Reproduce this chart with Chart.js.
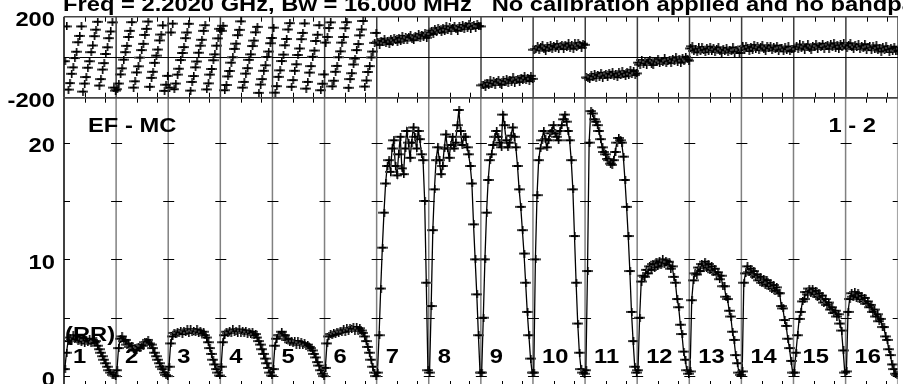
<!DOCTYPE html>
<html>
<head>
<meta charset="utf-8">
<script src="https://cdn.jsdelivr.net/npm/chart.js@4.4.1/dist/chart.umd.min.js"></script>
<style>
  html, body { margin: 0; padding: 0; background: #fff; overflow: hidden; }
  #wrap { position: relative; width: 903px; height: 384px; overflow: hidden; }
  canvas { position: absolute; left: 0; top: 0; }
</style>
</head>
<body>
<div id="wrap">
  <canvas id="ampCanvas" width="903" height="392"></canvas>
  <canvas id="phaseCanvas" width="903" height="384"></canvas>
</div>
<script>
"use strict";

// ---- data (32 channels per IF) ----
const CHANNELS = 32;
const ifLabels = ["1", "2", "3", "4", "5", "6", "7", "8", "9", "10", "11", "12", "13", "14", "15", "16"];
const titleText = "Freq = 2.2020 GHz, Bw = 16.000 MHz   No calibration applied and no bandpass";
const baselineText = "EF - MC";
const stokesText = "(RR)";
const pageText = "1 - 2";
const phaseLabelTicks = [200, -200];
const ampLabelTicks = [20, 10, 0];
const ampMarkTicks = [0, 5, 10, 15, 20];

const ampIF01 = [0.6, 2.0, 3.0, 3.3, 3.1, 3.5, 3.2, 3.4, 3.0, 3.3, 2.9, 3.2, 2.8, 3.1, 2.9, 3.2, 2.8, 3.1, 2.9, 3.0, 2.6, 2.3, 2.0, 1.7, 1.4, 1.1, 0.8, 0.5, 0.3, 0.1, 0.05, 0.0];
const ampIF02 = [0.5, 2.4, 3.2, 3.4, 3.0, 3.1, 2.7, 2.8, 2.5, 2.6, 2.3, 2.4, 2.2, 2.5, 2.4, 2.7, 2.6, 2.9, 2.9, 3.1, 2.8, 2.7, 2.4, 2.0, 1.7, 1.4, 1.1, 0.8, 0.6, 0.3, 0.1, 0.0];
const ampIF03 = [0.8, 2.8, 3.4, 3.7, 3.6, 3.8, 3.7, 3.9, 3.6, 3.9, 3.8, 4.0, 3.7, 4.0, 3.8, 3.9, 3.8, 4.0, 3.7, 3.9, 3.6, 3.8, 3.5, 3.3, 2.9, 2.4, 1.9, 1.4, 1.0, 0.6, 0.3, 0.05];
const ampIF04 = [0.8, 2.9, 3.5, 3.8, 3.7, 3.9, 3.7, 4.0, 3.8, 3.9, 3.7, 4.0, 3.7, 3.9, 3.7, 3.9, 3.6, 3.8, 3.6, 3.8, 3.5, 3.6, 3.3, 3.0, 2.7, 2.3, 1.9, 1.5, 1.1, 0.7, 0.3, 0.05];
const ampIF05 = [0.6, 2.6, 3.2, 3.5, 3.5, 3.8, 3.5, 3.5, 3.1, 3.2, 2.9, 3.0, 2.8, 3.0, 2.7, 3.0, 2.7, 2.9, 2.7, 2.8, 2.6, 2.7, 2.5, 2.4, 2.2, 1.9, 1.6, 1.2, 0.9, 0.5, 0.2, 0.0];
const ampIF06 = [0.7, 2.8, 3.4, 3.6, 3.5, 3.7, 3.6, 3.8, 3.7, 3.9, 3.8, 4.0, 3.8, 4.1, 3.9, 4.1, 4.0, 4.2, 3.9, 4.2, 3.9, 4.1, 3.9, 3.7, 3.4, 3.0, 2.5, 2.0, 1.4, 0.8, 0.3, 0.0];
const ampIF07 = [0.3, 3.5, 7.5, 11.0, 14.0, 16.5, 18.0, 18.5, 17.5, 19.5, 20.2, 18.0, 17.2, 19.0, 20.5, 17.8, 17.3, 19.5, 21.0, 20.0, 18.7, 20.0, 21.3, 20.5, 19.5, 21.0, 20.3, 19.0, 18.5, 15.0, 8.0, 0.5];
const ampIF08 = [0.3, 6.0, 12.5, 16.0, 18.5, 19.6, 18.5, 17.3, 18.0, 19.5, 20.7, 19.5, 18.7, 19.8, 20.5, 19.5, 20.0, 21.5, 22.8, 21.0, 19.8, 20.5, 20.5, 19.6, 19.0, 18.0, 16.5, 13.0, 10.0, 7.0, 3.5, 0.3];
const ampIF09 = [0.3, 5.0, 10.0, 14.0, 16.8, 18.5, 19.0, 19.8, 20.5, 21.0, 20.5, 20.0, 19.6, 22.4, 21.5, 20.2, 19.6, 20.0, 20.6, 21.3, 20.5, 19.6, 18.0, 16.0, 14.5, 12.5, 10.5, 8.0, 5.5, 3.5, 1.5, 0.3];
const ampIF10 = [0.3, 10.0, 15.5, 18.5, 19.5, 20.2, 21.0, 20.3, 19.6, 20.2, 20.8, 21.0, 21.5, 20.8, 20.5, 20.2, 21.0, 21.5, 22.0, 22.4, 21.8, 21.0, 20.2, 18.5, 16.0, 12.0, 8.0, 4.5, 2.0, 0.6, 0.3, 0.2];
const ampIF11 = [0.5, 9.0, 20.0, 22.7, 22.5, 22.0, 21.8, 21.5, 21.0, 20.3, 19.6, 19.2, 19.0, 18.6, 18.5, 18.2, 18.1, 18.5, 19.2, 20.0, 20.4, 20.2, 20.0, 18.8, 16.8, 14.5, 12.0, 9.0, 5.5, 3.0, 0.8, 0.3];
const ampIF12 = [0.5, 5.0, 8.1, 8.6, 8.5, 9.1, 8.8, 9.4, 9.1, 9.6, 9.3, 9.8, 9.4, 9.9, 9.5, 10.0, 9.6, 9.9, 9.5, 9.8, 9.2, 9.4, 8.5, 8.0, 6.6, 5.9, 4.4, 3.6, 2.1, 1.4, 0.5, 0.2];
const ampIF13 = [0.4, 6.5, 8.2, 8.8, 8.7, 9.3, 9.0, 9.6, 9.3, 9.8, 9.3, 9.6, 9.1, 9.4, 8.9, 9.2, 8.7, 8.9, 8.3, 8.6, 7.7, 7.7, 6.8, 6.6, 5.6, 5.1, 3.8, 3.1, 1.8, 1.1, 0.3, 0.1];
const ampIF14 = [0.4, 8.0, 8.8, 9.4, 8.9, 9.2, 8.7, 9.0, 8.5, 8.7, 8.2, 8.5, 8.0, 8.3, 7.8, 8.2, 7.7, 8.0, 7.5, 7.8, 7.3, 7.6, 7.1, 7.1, 6.0, 5.8, 4.8, 4.3, 3.2, 2.4, 1.3, 0.3];
const ampIF15 = [0.3, 2.0, 3.5, 4.9, 5.5, 6.4, 6.6, 7.2, 7.0, 7.5, 7.1, 7.5, 7.0, 7.3, 6.8, 7.1, 6.6, 6.9, 6.3, 6.6, 6.1, 6.3, 5.7, 5.9, 5.4, 5.6, 5.1, 5.3, 4.5, 3.9, 2.2, 0.3];
const ampIF16 = [0.4, 5.5, 6.6, 7.1, 6.8, 7.2, 6.7, 7.1, 6.6, 6.9, 6.4, 6.7, 6.2, 6.4, 5.9, 6.1, 5.5, 5.7, 5.1, 5.3, 4.7, 4.9, 4.2, 4.2, 3.4, 3.1, 2.3, 1.8, 1.0, 0.6, 0.2, 0.1];

const phaseIF01 = [-20, 152, -160, -128, -82, -50, -4, 27, 74, 105, 152, -170, -130, -98, -52, -20, 25, 58, 104, 136, 175, -140, -108, -61, -29, 16, 49, 94, 127, 172, -150, -165];
const phaseIF02 = [-158, -130, -85, -55, -12, 25, 56, 100, 130, 173, -150, -119, -75, -45, -2, 35, 66, 110, 140, 176, -146, -102, -72, -28, 8, 38, 83, 112, 157, -166, -136, -92];
const phaseIF03 = [-150, 122, 166, -158, -130, -86, -57, -14, 21, 50, 94, 122, 165, -165, -122, -93, -50, -21, 22, 57, 86, 130, 158, -159, -129, -86, -58, -15, 14, 57, 93, 140];
const phaseIF04 = [130, 155, -163, -137, -95, -68, -27, 0, 41, 67, 109, 135, 177, -150, -122, -81, -54, -13, 14, 55, 82, 123, 150, -176, -135, -108, -67, -40, 1, 28, 69, 95];
const phaseIF05 = [146, -175, -143, -97, -65, -19, 13, 59, 90, 137, 168, -146, -113, -67, -35, 11, 43, 89, 120, 167, -155, -122, -76, -44, 2, 33, 80, 111, 158, -163, -131, -85];
const phaseIF06 = [72, 100, 144, 172, -144, -116, -72, -43, 0, 29, 72, 100, 143, 173, -151, -108, -79, -36, -7, 35, 65, 108, 137, 179, -145, -115, -73, -44, -1, 28, 71, 120];
const phaseIF07 = [77, 61, 82, 73, 91, 69, 81, 65, 92, 77, 96, 84, 73, 95, 81, 105, 87, 101, 83, 98, 109, 90, 84, 106, 99, 113, 93, 108, 101, 121, 96, 110];
const phaseIF08 = [119, 131, 115, 141, 126, 145, 133, 122, 143, 129, 153, 135, 149, 130, 145, 156, 137, 131, 152, 145, 159, 139, 154, 146, 166, 141, 155, 160, 144, 164, 154, 152];
const phaseIF09 = [-139, -135, -146, -125, -139, -115, -132, -118, -137, -122, -111, -130, -136, -115, -122, -108, -127, -112, -120, -100, -125, -111, -106, -122, -101, -111, -92, -114, -102, -118, -92, -107];
const phaseIF10 = [37, 40, 53, 34, 48, 59, 40, 33, 54, 46, 60, 39, 54, 46, 65, 40, 53, 58, 41, 62, 52, 69, 47, 58, 42, 68, 52, 71, 58, 47, 67, 61];
const phaseIF11 = [-100, -103, -110, -89, -96, -83, -103, -88, -97, -77, -102, -89, -84, -100, -80, -90, -72, -94, -83, -99, -73, -89, -70, -82, -94, -73, -87, -64, -82, -68, -88, -80];
const phaseIF12 = [-27, -37, -14, -32, -18, -38, -23, -12, -32, -38, -17, -25, -11, -31, -17, -25, -5, -30, -17, -12, -28, -8, -18, 0, -23, -11, -27, -2, -17, 2, -11, -17];
const phaseIF13 = [43, 54, 31, 41, 24, 49, 33, 50, 37, 25, 45, 29, 52, 33, 46, 26, 39, 49, 29, 22, 41, 33, 46, 25, 38, 29, 48, 22, 35, 38, 21, 36];
const phaseIF14 = [53, 37, 56, 43, 31, 51, 37, 60, 41, 54, 35, 49, 59, 40, 33, 53, 44, 57, 35, 49, 39, 57, 31, 43, 47, 29, 48, 37, 53, 30, 40, 42];
const phaseIF15 = [45, 54, 40, 63, 44, 58, 38, 52, 63, 43, 37, 57, 49, 63, 42, 56, 48, 67, 41, 55, 59, 42, 63, 52, 69, 47, 58, 41, 67, 51, 70, 55];
const phaseIF16 = [46, 59, 69, 48, 40, 60, 51, 63, 42, 55, 45, 64, 37, 49, 53, 35, 54, 42, 59, 35, 45, 28, 52, 35, 53, 39, 26, 46, 30, 52, 33, 30];

const ampByIF = [ampIF01, ampIF02, ampIF03, ampIF04, ampIF05, ampIF06, ampIF07, ampIF08,
  ampIF09, ampIF10, ampIF11, ampIF12, ampIF13, ampIF14, ampIF15, ampIF16];
const phaseByIF = [phaseIF01, phaseIF02, phaseIF03, phaseIF04, phaseIF05, phaseIF06, phaseIF07, phaseIF08,
  phaseIF09, phaseIF10, phaseIF11, phaseIF12, phaseIF13, phaseIF14, phaseIF15, phaseIF16];

// ---- helpers ----
const FONT = 'bold 21px "Liberation Sans", Arial, sans-serif';
const X_MAX = ifLabels.length * CHANNELS;
const MINOR_TICKS = [12.8, 25]; // per IF, in channel units

function toPoints(list) {
  const pts = [];
  list.forEach((vals, i) => {
    vals.forEach((v, c) => pts.push({ x: i * CHANNELS + c + 0.5, y: v }));
  });
  return pts;
}

// wide "+" like the AIPS plot symbol
function makeCross() {
  const c = document.createElement("canvas");
  c.width = 11;
  c.height = 8;
  const g = c.getContext("2d");
  g.fillStyle = "#444";
  g.fillRect(0, 3, 11, 2);
  g.fillStyle = "#000";
  g.fillRect(2, 3, 7, 2);
  g.fillRect(5, 0, 1.6, 8);
  return c;
}

function drawText(ctx, text, x, y, align) {
  ctx.save();
  ctx.font = FONT;
  ctx.fillStyle = "#000";
  ctx.translate(x, y);
  ctx.scale(1.13, 1);
  ctx.textAlign = align;
  ctx.textBaseline = "alphabetic";
  ctx.fillText(text, 0, 0);
  ctx.restore();
}

function seg(ctx, x1, y1, x2, y2) {
  ctx.beginPath();
  ctx.moveTo(x1, y1);
  ctx.lineTo(x2, y2);
  ctx.stroke();
}

// frame, IF separators, inward ticks
const framePlugin = {
  id: "frame",
  beforeDatasetsDraw(chart, args, opts) {
    const { ctx, chartArea: a } = chart;
    const xs = chart.scales.x;
    const ys = chart.scales.y;
    ctx.save();
    ctx.beginPath();
    ctx.rect(a.left, a.top, a.right - a.left, a.bottom - a.top);
    ctx.clip();

    ctx.strokeStyle = opts.ifColor;
    ctx.lineWidth = 1.5;
    for (let k = 1; k <= ifLabels.length; k++) {
      const px = xs.getPixelForValue(k * CHANNELS);
      seg(ctx, px, a.top, px, a.bottom);
    }

    ctx.strokeStyle = "#000";
    ctx.lineWidth = 1;
    for (let k = 0; k < ifLabels.length; k++) {
      MINOR_TICKS.forEach((t) => {
        const px = Math.round(xs.getPixelForValue(k * CHANNELS + t)) + 0.5;
        seg(ctx, px, a.top, px, a.top + 5);
        seg(ctx, px, a.bottom - 5, px, a.bottom);
      });
    }

    (opts.marks || []).forEach((v) => {
      const py = Math.round(ys.getPixelForValue(v)) + 0.5;
      for (let k = 0; k <= ifLabels.length; k++) {
        const px = xs.getPixelForValue(k * CHANNELS);
        seg(ctx, px - 5, py, px + 6, py);
      }
    });

    if (opts.zeroLine) {
      const py = Math.round(ys.getPixelForValue(0)) + 0.5;
      seg(ctx, a.left, py, a.right, py);
    }
    ctx.restore();

    ctx.save();
    ctx.strokeStyle = "#000";
    ctx.lineWidth = 1.5;
    seg(ctx, a.left, a.top, a.left, a.bottom);
    ctx.strokeStyle = "#444";
    seg(ctx, a.left, a.top, a.right, a.top);
    seg(ctx, a.left, a.bottom, a.right, a.bottom);
    ctx.restore();
  },
  afterDraw(chart, args, opts) {
    if (opts.draw) opts.draw(chart);
  },
};

const crossImg = makeCross();

function baseOptions(padding, yMin, yMax, frameOpts) {
  return {
    responsive: false,
    animation: false,
    events: [],
    layout: { padding },
    scales: {
      x: { type: "linear", min: 0, max: X_MAX, display: false },
      y: { type: "linear", min: yMin, max: yMax, display: false },
    },
    plugins: {
      legend: { display: false },
      tooltip: { enabled: false },
      frame: frameOpts,
    },
  };
}

// ---- phase panel ----
new Chart(document.getElementById("phaseCanvas"), {
  type: "scatter",
  data: {
    datasets: [{
      data: toPoints(phaseByIF),
      showLine: false,
      pointStyle: crossImg,
      pointRadius: 4,
    }],
  },
  options: baseOptions({ left: 64, right: 2, top: 16.7, bottom: 286.3 }, -200, 200, {
    ifColor: "#3c3c3c",
    zeroLine: true,
    marks: [],
    draw(chart) {
      const ys = chart.scales.y;
      drawText(chart.ctx, titleText, 63, 10.5, "left");
      phaseLabelTicks.forEach((v) => {
        drawText(chart.ctx, String(v), 55, ys.getPixelForValue(v) + 9.5, "right");
      });
    },
  }),
  plugins: [framePlugin],
});

// ---- amplitude panel ----
new Chart(document.getElementById("ampCanvas"), {
  type: "scatter",
  data: {
    datasets: [{
      data: toPoints(ampByIF),
      showLine: true,
      borderColor: "#000",
      borderWidth: 1.3,
      tension: 0,
      pointStyle: crossImg,
      pointRadius: 4,
    }],
  },
  options: baseOptions({ left: 64, right: 2, top: 97.7, bottom: 6 }, -0.85, 23.85, {
    ifColor: "#808080",
    zeroLine: false,
    marks: ampMarkTicks,
    draw(chart) {
      const { ctx } = chart;
      const xs = chart.scales.x;
      const ys = chart.scales.y;
      ampLabelTicks.forEach((v) => {
        drawText(ctx, String(v), 55, ys.getPixelForValue(v) + 9.5, "right");
      });
      drawText(ctx, baselineText, 88, 132, "left");
      drawText(ctx, pageText, 876, 132, "right");
      drawText(ctx, stokesText, 65, 341, "left");
      ifLabels.forEach((lab, i) => {
        drawText(ctx, lab, xs.getPixelForValue(i * CHANNELS) + 9, 363, "left");
      });
    },
  }),
  plugins: [framePlugin],
});
</script>
</body>
</html>
